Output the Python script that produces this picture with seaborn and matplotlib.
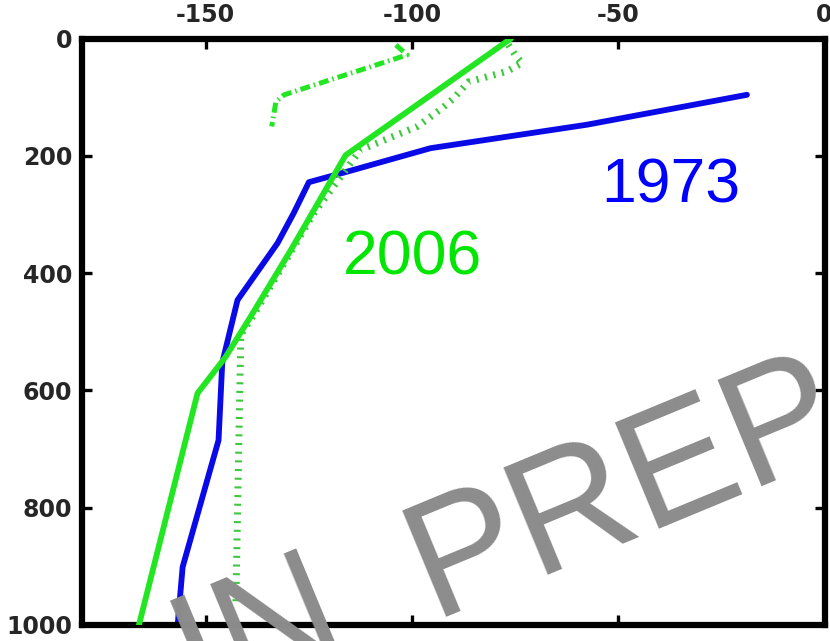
import matplotlib
matplotlib.use("Agg")
import matplotlib.pyplot as plt
import seaborn as sns

# Profiles: value on the horizontal axis, depth downward on the vertical axis
depth_1973 = [96, 147, 187, 227, 245, 298, 349, 446, 553, 685, 901, 974, 1000]
value_1973 = [-18.8, -57.6, -95.5, -115.7, -125.0, -128.7, -132.6, -142.3,
              -146.0, -146.9, -155.6, -156.5, -156.8]

depth_2006 = [0, 199, 361, 474, 543, 605, 1000]
value_2006 = [-76.0, -116.1, -129.4, -139.1, -145.2, -152.0, -166.2]

depth_2006_dotted = [11, 28, 42, 56, 74, 102, 119, 150, 190, 300, 474, 505, 965]
value_2006_dotted = [-76.6, -75.0, -73.3, -77.0, -86.3, -89.9, -92.7, -98.7,
                     -112.5, -124.0, -138.6, -141.5, -142.7]

depth_2006_dashdot = [11, 28, 96, 108, 150]
value_2006_dashdot = [-103.9, -101.2, -131.0, -133.0, -134.0]

x_ticks = [-150, -100, -50, 0]
y_ticks = [0, 200, 400, 600, 800, 1000]

BLUE = "#0a0ae6"
GREEN = "#22e622"
GREEN_DOT = "#3cc83c"
STAMP = "#8c8c8c"

sns.set_style("white")
plt.rcParams["font.family"] = ["DejaVu Sans"]
plt.rcParams["axes.unicode_minus"] = False

fig = plt.figure(figsize=(8.30, 6.41), dpi=100)
ax = fig.add_axes([82 / 830, 1 - 625 / 641, 742.5 / 830, 586.5 / 641])

sns.lineplot(x=value_1973, y=depth_1973, sort=False, estimator=None,
             color=BLUE, lw=4.2, ax=ax, zorder=2)
sns.lineplot(x=value_2006_dotted, y=depth_2006_dotted, sort=False, estimator=None,
             color=GREEN_DOT, lw=5.0, linestyle=(0, (0.3, 0.95)), ax=ax, zorder=3)
sns.lineplot(x=value_2006_dashdot, y=depth_2006_dashdot, sort=False, estimator=None,
             color=GREEN, lw=3.6, linestyle=(0, (2.0, 0.8, 0.3, 0.8)), ax=ax, zorder=3)
sns.lineplot(x=value_2006, y=depth_2006, sort=False, estimator=None,
             color=GREEN, lw=4.2, ax=ax, zorder=4)

ax.set_xlim(-180, 0)
ax.set_ylim(1000, 0)
ax.set_xticks(x_ticks)
ax.set_yticks(y_ticks)
ax.set_xticklabels([str(v) for v in x_ticks])
ax.set_yticklabels([str(v) for v in y_ticks])
ax.set_xlabel("")
ax.set_ylabel("")

for side in ["top", "bottom", "left", "right"]:
    ax.spines[side].set_visible(True)
    ax.spines[side].set_linewidth(4.5)
    ax.spines[side].set_color("black")

ax.tick_params(axis="both", which="major", direction="in", length=7, width=2.4,
               color="black", top=True, bottom=True, left=True, right=True,
               labeltop=True, labelbottom=False, labelleft=True, labelright=False,
               labelsize=17)
ax.tick_params(axis="x", pad=8)
ax.tick_params(axis="y", pad=7)
for lbl in ax.get_xticklabels() + ax.get_yticklabels():
    lbl.set_fontweight("bold")

ax.text(-37.3, 279, "1973", color="#0000ff", fontsize=45, ha="center",
        va="baseline", family=["Liberation Sans", "DejaVu Sans"], zorder=5)
ax.text(-100.0, 403, "2006", color="#00e600", fontsize=45, ha="center",
        va="baseline", family=["Liberation Sans", "DejaVu Sans"], zorder=5)

# Slanted "IN PREP" stamp across the lower right
stamp_kw = dict(color=STAMP, fontsize=120, rotation=22.5, rotation_mode="anchor",
                ha="left", va="baseline",
                family=["Liberation Sans", "DejaVu Sans"], zorder=10)
fig.text(198.7 / 830, 1 - 707.3 / 641, "IN", **stamp_kw)
fig.text(432.7 / 830, 1 - 617.3 / 641, "PREP", **stamp_kw)

fig.savefig("out.png", dpi=100)
